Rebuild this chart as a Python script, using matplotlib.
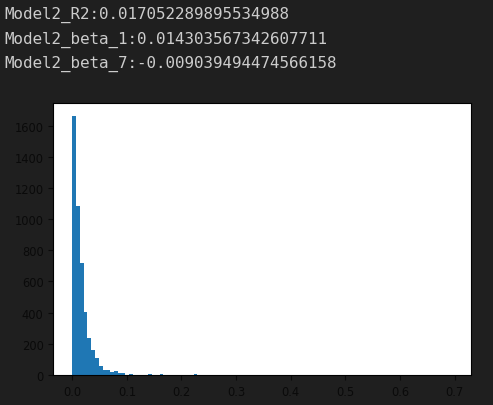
import numpy as np
import matplotlib.pyplot as plt

# printed output above the plot
lines = [
    "Model2_R2:0.017052289895534988",
    "Model2_beta_1:0.014303567342607711",
    "Model2_beta_7:-0.009039494474566158",
]

# histogram: 100 bins between min and max of the data
data_min = 0.0
data_max = 0.695
n_bins = 100
counts = [0] * n_bins
head = [1660, 1083, 717, 402, 235, 163, 107, 60, 33, 30, 20, 26, 11, 10, 0, 8]
counts[:len(head)] = head
counts[20] = 7
counts[23] = 6
counts[32] = 6
# thin tail out to the max value (too small to see)
for i in [41, 47, 55, 63, 70, 84, 99]:
    counts[i] = 1

edges = np.linspace(data_min, data_max, n_bins + 1)
centers = (edges[:-1] + edges[1:]) / 2

bg = '#1f1f1f'
fig = plt.figure(figsize=(4.93, 4.06), dpi=100, facecolor=bg)

for i, t in enumerate(lines):
    fig.text(4 / 493, 1 - (19 + i * 24.5) / 406, t, color='#cccccc',
             family='DejaVu Sans Mono', fontsize=11.45, va='baseline')

ax = fig.add_axes([0.108, 0.074, 0.847, 0.669])
ax.hist(centers, bins=edges, weights=counts, color='#1f77b4')
ax.set_facecolor('white')
ax.set_xticks(np.arange(0, 0.71, 0.1))
ax.set_yticks(np.arange(0, 1601, 200))
ax.tick_params(labelsize=8.3, colors='#0a0a0a')

fig.savefig('out.png', dpi=100, facecolor=bg)
